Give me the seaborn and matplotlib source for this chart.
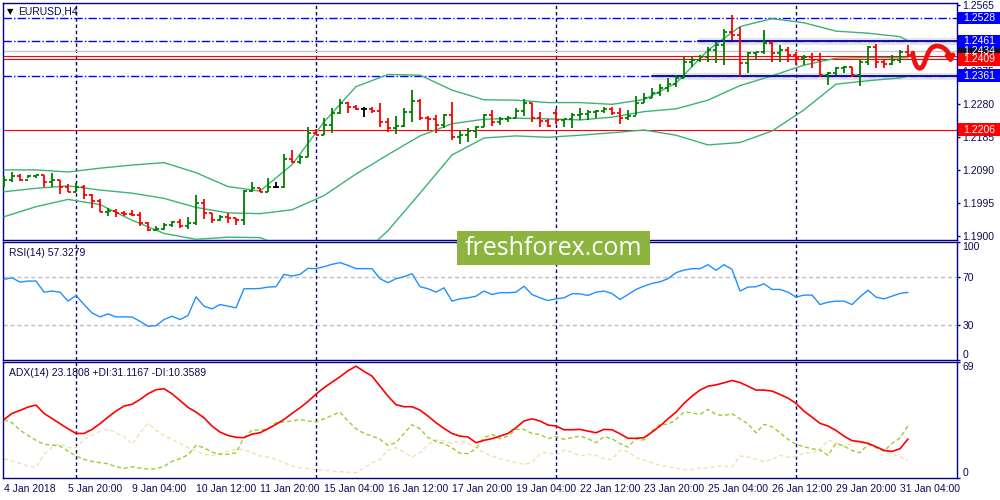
import numpy as np
import pandas as pd
import matplotlib
matplotlib.use("Agg")
import matplotlib.pyplot as plt
import matplotlib.transforms as mtransforms
from matplotlib.patches import Rectangle, FancyArrowPatch
from matplotlib.path import Path
import seaborn as sns

sns.set_style("white")
plt.rcParams['font.family'] = ['Liberation Sans', 'DejaVu Sans']

# ---- EURUSD H4 bars (4 Jan 12:00 .. 31 Jan 08:00) ----
HIGH = [1.2071, 1.2085, 1.2078, 1.2075, 1.2076, 1.2074, 1.2082, 1.2060, 1.2050, 1.2051,
        1.2047, 1.2022, 1.2005, 1.1979, 1.1977, 1.1973, 1.1975, 1.1970, 1.1941, 1.1928,
        1.1938, 1.1944, 1.1948, 1.1954, 1.2018, 1.2005, 1.1965, 1.1960, 1.1967, 1.1951,
        1.2032, 1.2056, 1.2037, 1.2066, 1.2056, 1.2136, 1.2147, 1.2133, 1.2215, 1.2207,
        1.2239, 1.2267, 1.2293, 1.2287, 1.2277, 1.2272, 1.2272, 1.2284, 1.2239, 1.2245,
        1.2267, 1.2320, 1.2293, 1.2245, 1.2248, 1.2251, 1.2287, 1.2203, 1.2210, 1.2217,
        1.2251, 1.2263, 1.2243, 1.2245, 1.2267, 1.2293, 1.2282, 1.2258, 1.2236, 1.2265,
        1.2238, 1.2253, 1.2267, 1.2263, 1.2263, 1.2270, 1.2272, 1.2267, 1.2263, 1.2303,
        1.2313, 1.2325, 1.2338, 1.2354, 1.2363, 1.2416, 1.2416, 1.2421, 1.2445, 1.2459,
        1.2495, 1.2536, 1.2503, 1.2431, 1.2431, 1.2493, 1.2462, 1.2450, 1.2445, 1.2431,
        1.2421, 1.2426, 1.2426, 1.2373, 1.2387, 1.2389, 1.2387, 1.2411, 1.2447, 1.2453,
        1.2407, 1.2421, 1.2435, 1.2450]
LOW = [1.2042, 1.2056, 1.2059, 1.2066, 1.2066, 1.2042, 1.2042, 1.2021, 1.2025, 1.2025,
       1.2005, 1.1979, 1.1968, 1.1957, 1.1955, 1.1957, 1.1957, 1.1929, 1.1914, 1.1915,
       1.1917, 1.1925, 1.1923, 1.1921, 1.1931, 1.1948, 1.1938, 1.1944, 1.1938, 1.1931,
       1.1931, 1.2025, 1.2025, 1.2027, 1.2037, 1.2037, 1.2109, 1.2107, 1.2128, 1.2191,
       1.2192, 1.2197, 1.2251, 1.2253, 1.2263, 1.2243, 1.2253, 1.2215, 1.2200, 1.2194,
       1.2215, 1.2229, 1.2234, 1.2205, 1.2195, 1.2210, 1.2176, 1.2165, 1.2171, 1.2181,
       1.2213, 1.2217, 1.2219, 1.2229, 1.2239, 1.2245, 1.2229, 1.2215, 1.2215, 1.2222,
       1.2215, 1.2210, 1.2234, 1.2234, 1.2239, 1.2253, 1.2248, 1.2222, 1.2234, 1.2248,
       1.2282, 1.2296, 1.2303, 1.2315, 1.2328, 1.2354, 1.2387, 1.2402, 1.2402, 1.2397,
       1.2392, 1.2464, 1.2361, 1.2368, 1.2407, 1.2424, 1.2402, 1.2402, 1.2402, 1.2392,
       1.2392, 1.2383, 1.2359, 1.2335, 1.2363, 1.2368, 1.2359, 1.2332, 1.2392, 1.2383,
       1.2383, 1.2392, 1.2397, 1.2418]
CLOSE = [1.2061, 1.2073, 1.2061, 1.2071, 1.2074, 1.2056, 1.2060, 1.2042, 1.2027, 1.2042,
         1.2018, 1.1999, 1.1970, 1.1973, 1.1965, 1.1962, 1.1960, 1.1938, 1.1917, 1.1919,
         1.1931, 1.1941, 1.1927, 1.1938, 1.1996, 1.1965, 1.1946, 1.1954, 1.1951, 1.1946,
         1.2030, 1.2037, 1.2027, 1.2042, 1.2042, 1.2121, 1.2114, 1.2128, 1.2195, 1.2192,
         1.2219, 1.2253, 1.2282, 1.2270, 1.2265, 1.2265, 1.2261, 1.2229, 1.2210, 1.2217,
         1.2258, 1.2290, 1.2239, 1.2236, 1.2219, 1.2248, 1.2184, 1.2191, 1.2203, 1.2215,
         1.2248, 1.2229, 1.2236, 1.2241, 1.2261, 1.2282, 1.2241, 1.2232, 1.2217, 1.2234,
         1.2236, 1.2248, 1.2252, 1.2256, 1.2260, 1.2265, 1.2255, 1.2239, 1.2245, 1.2282,
         1.2296, 1.2311, 1.2325, 1.2339, 1.2354, 1.2402, 1.2407, 1.2416, 1.2435, 1.2450,
         1.2488, 1.2480, 1.2397, 1.2428, 1.2430, 1.2455, 1.2426, 1.2435, 1.2421, 1.2412,
         1.2416, 1.2407, 1.2363, 1.2370, 1.2383, 1.2386, 1.2363, 1.2402, 1.2445, 1.2402,
         1.2395, 1.2407, 1.2431, 1.2420]
FIRST_OPEN = 1.2048
GAP_OPENS = {69: 1.2255}

# Bollinger bands (20, 2), read every 4 bars
BB_BARS = list(range(0, 113, 4)) + [113]
BB_UPPER = [1.2090, 1.2090, 1.2084, 1.2095, 1.2104, 1.2111, 1.2082, 1.2042, 1.2029, 1.2105,
            1.2228, 1.2330, 1.2365, 1.2363, 1.2320, 1.2292, 1.2291, 1.2284, 1.2284, 1.2279,
            1.2293, 1.2340, 1.2435, 1.2503, 1.2526, 1.2514, 1.2490, 1.2484, 1.2474, 1.2462]
BB_MIDDLE = [1.2027, 1.2037, 1.2044, 1.2032, 1.2023, 1.2008, 1.1982, 1.1966, 1.1964, 1.1975,
             1.2016, 1.2078, 1.2134, 1.2188, 1.2223, 1.2236, 1.2239, 1.2237, 1.2234, 1.2242,
             1.2258, 1.2266, 1.2291, 1.2333, 1.2361, 1.2392, 1.2412, 1.2414, 1.2413, 1.2413]
BB_LOWER = [1.1955, 1.1984, 1.2005, 1.1990, 1.1945, 1.1907, 1.1890, 1.1896, 1.1895, 1.1860,
            1.1815, 1.1830, 1.1915, 1.2023, 1.2133, 1.2182, 1.2188, 1.2184, 1.2190, 1.2197,
            1.2205, 1.2190, 1.2162, 1.2169, 1.2202, 1.2263, 1.2337, 1.2347, 1.2355, 1.2360]

RSI = [68.3, 69.7, 66.0, 66.9, 66.9, 57.5, 58.4, 57.5, 49.9, 54.7,
       47.0, 39.9, 36.5, 39.1, 36.5, 36.5, 36.5, 32.8, 28.6, 29.1,
       34.3, 37.1, 34.3, 37.7, 53.5, 45.6, 43.3, 47.0, 45.6, 44.2,
       60.4, 60.4, 60.6, 61.8, 62.1, 72.6, 71.1, 72.6, 77.7, 77.4,
       79.1, 81.1, 82.5, 80.2, 77.4, 77.4, 77.4, 68.9, 65.5, 68.9,
       70.6, 73.1, 62.1, 60.4, 57.5, 61.2, 49.9, 51.8, 52.7, 54.1,
       58.4, 55.5, 57.0, 57.0, 57.5, 62.6, 55.5, 52.7, 50.4, 51.8,
       52.7, 56.1, 56.1, 54.7, 57.5, 58.4, 56.4, 51.3, 55.5, 59.8,
       62.6, 64.9, 66.3, 68.9, 74.0, 76.2, 77.4, 77.4, 80.8, 76.0,
       80.8, 76.8, 58.4, 61.8, 62.1, 64.6, 59.8, 59.8, 57.5, 53.3,
       55.0, 55.0, 47.0, 49.0, 49.9, 49.9, 47.0, 53.5, 59.2, 53.3,
       51.8, 54.1, 56.4, 57.3]

ADX = [34.8, 38.4, 40.2, 42.2, 43.4, 38.4, 35.4, 32.3, 29.3, 26.5,
       26.5, 28.9, 32.3, 36.2, 39.8, 42.8, 43.8, 46.7, 50.1, 52.5,
       53.1, 50.1, 46.1, 42.0, 39.2, 35.8, 30.9, 27.3, 25.3, 24.2,
       24.0, 26.1, 26.9, 29.3, 31.9, 34.8, 38.4, 41.8, 45.5, 49.9,
       53.7, 57.0, 60.2, 63.8, 66.5, 63.4, 60.6, 54.6, 48.7, 43.6,
       42.4, 42.4, 40.4, 36.8, 32.9, 29.5, 26.5, 24.9, 24.4, 21.0,
       22.4, 23.4, 24.9, 26.5, 29.9, 33.9, 35.2, 33.9, 31.5, 30.9,
       28.7, 28.7, 28.9, 27.9, 26.9, 28.9, 28.7, 26.3, 23.6, 23.6,
       24.0, 27.3, 30.9, 35.2, 39.2, 44.4, 48.7, 52.3, 54.6, 55.4,
       56.6, 58.0, 56.8, 54.6, 52.3, 52.3, 51.7, 49.7, 47.5, 44.4,
       39.8, 36.2, 32.5, 30.9, 28.3, 24.9, 22.2, 21.6, 20.6, 18.6,
       16.4, 15.8, 17.4, 23.2]
PLUS_DI = [34.8, 32.9, 28.5, 25.3, 22.4, 20.0, 19.6, 19.0, 16.0, 13.1,
           11.1, 9.9, 9.1, 8.5, 6.7, 5.7, 6.7, 5.9, 5.3, 5.5,
           6.9, 9.9, 11.5, 13.7, 19.4, 18.0, 15.4, 14.1, 14.1, 15.0,
           24.0, 28.5, 28.5, 29.3, 32.9, 33.3, 33.9, 34.8, 33.9, 33.3,
           35.2, 37.2, 39.2, 33.9, 29.3, 26.5, 24.9, 23.0, 19.4, 21.0,
           26.5, 31.7, 29.3, 24.0, 21.8, 20.4, 18.0, 14.7, 14.5, 17.4,
           24.0, 25.9, 23.4, 24.9, 28.9, 28.9, 26.5, 25.9, 23.4, 24.6,
           23.0, 24.0, 24.9, 23.4, 21.0, 24.6, 23.4, 20.4, 18.4, 23.4,
           22.6, 27.9, 31.9, 31.9, 34.8, 39.2, 38.8, 37.8, 40.8, 37.8,
           37.2, 38.2, 35.2, 32.3, 26.9, 31.9, 30.5, 26.9, 23.0, 20.0,
           18.6, 17.4, 16.6, 13.5, 20.6, 19.0, 16.4, 15.0, 20.0, 18.0,
           16.0, 20.6, 23.8, 31.1]
MINUS_DI = [11.5, 10.1, 8.7, 7.1, 6.3, 14.1, 18.2, 20.4, 18.0, 18.0,
            23.0, 25.5, 27.7, 29.1, 26.9, 24.6, 20.0, 26.9, 32.5, 28.5,
            25.3, 23.0, 20.6, 18.0, 16.0, 14.1, 13.5, 14.7, 15.8, 17.0,
            17.0, 15.0, 13.1, 12.5, 11.1, 9.1, 7.1, 6.1, 5.5, 5.1,
            4.6, 4.0, 3.8, 3.4, 3.2, 6.1, 9.1, 11.1, 16.6, 18.0,
            15.4, 12.5, 15.0, 20.0, 22.6, 22.0, 20.6, 22.0, 20.6, 18.0,
            15.0, 13.1, 11.5, 10.3, 9.1, 8.1, 9.1, 14.5, 15.4, 13.5,
            16.6, 15.4, 13.1, 14.1, 13.5, 11.5, 11.1, 16.6, 15.6, 12.1,
            10.7, 9.1, 7.5, 6.7, 5.9, 5.1, 5.1, 5.9, 5.9, 7.1,
            7.1, 6.5, 13.1, 12.5, 11.1, 9.7, 11.1, 13.5, 12.3, 12.7,
            15.0, 15.0, 17.0, 22.6, 21.0, 18.6, 20.6, 21.0, 20.6, 18.6,
            16.0, 14.1, 12.7, 10.4]

# levels drawn on the chart
LEVELS_DASHDOT = [1.2528, 1.2461, 1.2361]
CHANNEL_START = {1.2461: 86.7, 1.2361: 81.0}
LEVELS_RED = [1.2417, 1.2409, 1.2206]
ASK_LEVEL = 1.2434
PRICE_TICKS = [1.2565, 1.2470, 1.2375, 1.2280, 1.2185, 1.2090, 1.1995, 1.1900]
HIDDEN_TICKS = [1.2470]   # fully covered by the 1.2461 label in the chart
WEEK_SEPARATORS = [9, 39, 69, 99]
XTICK_BARS = list(range(0, 113, 8))
XTICK_LABELS = ['4 Jan 2018', '5 Jan 20:00', '9 Jan 04:00', '10 Jan 12:00', '11 Jan 20:00',
                '15 Jan 04:00', '16 Jan 12:00', '17 Jan 20:00', '19 Jan 04:00', '22 Jan 12:00',
                '23 Jan 20:00', '25 Jan 04:00', '26 Jan 12:00', '29 Jan 20:00', '31 Jan 04:00']

NAVY = '#000080'
TXT = '#0a0a50'
UP, DOWN = '#008000', '#ff0000'
BB_COL = '#3cb371'
FS = 7.5

fig = plt.figure(figsize=(10, 5), dpi=100)
ax_p = fig.add_axes([0.003, 0.52, 0.954, 0.474])
ax_r = fig.add_axes([0.003, 0.28, 0.954, 0.236])
ax_a = fig.add_axes([0.003, 0.044, 0.954, 0.232])
XLIM = (-0.125, 119.125)

# ---------- price panel ----------
bars = np.arange(len(CLOSE))
close = np.array(CLOSE)
opens = np.array([FIRST_OPEN] + CLOSE[:-1])
for b, o in GAP_OPENS.items():
    opens[b] = o
cols = np.where(close > opens, UP, np.where(close < opens, DOWN, 'black'))
ax_p.vlines(bars, LOW, HIGH, colors=cols, lw=1.3, zorder=4)
ax_p.hlines(opens, bars - 0.42, bars, colors=cols, lw=1.3, zorder=4)
ax_p.hlines(close, bars, bars + 0.42, colors=cols, lw=1.3, zorder=4)

bb = pd.DataFrame({'bar': BB_BARS, 'upper': BB_UPPER, 'middle': BB_MIDDLE, 'lower': BB_LOWER})
bb = bb.melt(id_vars='bar', var_name='band', value_name='price')
sns.lineplot(data=bb, x='bar', y='price', units='band', estimator=None, sort=False,
             color=BB_COL, lw=1, ax=ax_p, zorder=3)

ax_p.axhline(ASK_LEVEL, color='#c8c8c8', lw=1, zorder=2)
for lv in LEVELS_RED:
    ax_p.axhline(lv, color='red', lw=0.8, zorder=2)
for lv in LEVELS_DASHDOT:
    ax_p.axhline(lv, color='#0000ff', lw=1, ls=(0, (6, 1.6, 1, 1.6)), zorder=2)
for lv, start in CHANNEL_START.items():
    ax_p.plot([start, XLIM[1]], [lv, lv], color='#a0a0b8', lw=5, alpha=0.3,
              solid_capstyle='butt', zorder=2)
    ax_p.plot([start, XLIM[1]], [lv, lv], color='#1010a0', lw=1.4, zorder=3)

ax_p.set_ylim(1.1888, 1.2571)
ax_p.yaxis.tick_right()
ax_p.set_yticks(PRICE_TICKS)
ax_p.set_yticklabels(['' if t in HIDDEN_TICKS else f'{t:.4f}' for t in PRICE_TICKS])

# price labels on the right scale
trans = mtransforms.blended_transform_factory(fig.transFigure, ax_p.transData)
box_h = 0.0037
for lv, fc in [(ASK_LEVEL, '#101030'), (1.2528, '#0000ff'), (1.2461, '#0000ff'),
               (1.2409, '#ff0000'), (1.2361, '#0000ff'), (1.2206, '#ff0000')]:
    ax_p.add_patch(Rectangle((0.958, lv - box_h / 2), 0.042, box_h, transform=trans,
                             fc=fc, ec='none', clip_on=False, zorder=10))
    ax_p.text(0.979, lv, f'{lv:.4f}', transform=trans, color='white', fontsize=FS,
              ha='center', va='center', clip_on=False, zorder=11)

# hand-drawn forecast arrow
verts = [(113.6, 1.2427), (113.8, 1.2392), (114.3, 1.2374), (114.8, 1.2387),
         (115.3, 1.2403), (115.4, 1.2447), (116.6, 1.2447),
         (117.6, 1.2447), (118.2, 1.2427), (118.4, 1.2397)]
codes = [Path.MOVETO] + [Path.CURVE4] * 9
ax_p.add_patch(FancyArrowPatch(path=Path(verts, codes), arrowstyle='-|>,head_length=3,head_width=2.2',
                               color='#f01010', lw=3.4, zorder=12, clip_on=False))

ax_p.text(0.004, 0.985, '\u25bc', transform=ax_p.transAxes, fontsize=6, color='black',
          va='top', family='DejaVu Sans')
ax_p.text(0.016, 0.985, 'EURUSD,H4', transform=ax_p.transAxes, fontsize=FS, color=TXT, va='top')

# ---------- RSI panel ----------
rsi = pd.DataFrame({'bar': bars, 'rsi': RSI})
sns.lineplot(data=rsi, x='bar', y='rsi', color='#1e90ff', lw=1, ax=ax_r, zorder=3)
for lv in (70, 30):
    ax_r.axhline(lv, color='#c0c0c0', lw=1, ls=(0, (3, 2)), zorder=1)
ax_r.set_ylim(0, 100)
ax_r.yaxis.tick_right()
ax_r.set_yticks([0, 30, 70, 100])
ax_r.set_yticklabels(['0', '30', '70', '100'])
ax_r.text(0.006, 0.95, 'RSI(14) 57.3279', transform=ax_r.transAxes, fontsize=FS, color=TXT, va='top')

# ---------- ADX panel ----------
adx = pd.DataFrame({'bar': bars, 'adx': ADX, 'pdi': PLUS_DI, 'mdi': MINUS_DI})
sns.lineplot(data=adx, x='bar', y='mdi', color='#f5deb3', lw=1, ls=(0, (3, 2)), ax=ax_a, zorder=2)
sns.lineplot(data=adx, x='bar', y='pdi', color='#9acd32', lw=1, ls=(0, (3, 2)), ax=ax_a, zorder=3)
sns.lineplot(data=adx, x='bar', y='adx', color='#ff0000', lw=1.2, ax=ax_a, zorder=4)
ax_a.set_ylim(0, 69)
ax_a.yaxis.tick_right()
ax_a.set_yticks([0, 69])
ax_a.set_yticklabels(['0', '69'])
ax_a.text(0.006, 0.95, 'ADX(14) 23.1808 +DI:31.1167 -DI:10.3589', transform=ax_a.transAxes,
          fontsize=FS, color=TXT, va='top')

ax_a.set_xticks(XTICK_BARS)
ax_a.set_xticklabels(XTICK_LABELS)
for lab in ax_a.get_xticklabels():
    lab.set_ha('left')

# ---------- common styling ----------
for ax in (ax_p, ax_r, ax_a):
    ax.set_xlim(*XLIM)
    ax.set_xlabel('')
    ax.set_ylabel('')
    for sp in ax.spines.values():
        sp.set_color(NAVY)
        sp.set_linewidth(1)
    for x in WEEK_SEPARATORS:
        ax.axvline(x, color=NAVY, lw=1, ls=(0, (2.5, 2)), zorder=1)
    ax.tick_params(axis='y', direction='out', length=2.5, width=1, pad=1.5,
                   colors=NAVY, labelcolor=TXT, labelsize=FS)
    if ax is not ax_a:
        ax.tick_params(axis='x', bottom=False, labelbottom=False)
ax_a.tick_params(axis='x', direction='out', length=3, width=1, pad=1.5,
                 colors=NAVY, labelcolor=TXT, labelsize=FS)

for ax, lo, hi in ((ax_r, 0, 100), (ax_a, 0, 69)):
    for tick in ax.yaxis.get_major_ticks():
        v = tick.get_loc()
        if v == hi:
            tick.label2.set_va('top')
        elif v == lo:
            tick.label2.set_va('bottom')

# watermark
fig.patches.append(Rectangle((0.457, 0.47), 0.193, 0.068, transform=fig.transFigure,
                             fc='#8db43f', ec='none', zorder=20))
fig.text(0.5535, 0.503, 'freshforex.com', color='white', fontsize=18, family='Open Sans',
         ha='center', va='center', zorder=21)

fig.savefig('out.png', dpi=100, facecolor='white')
